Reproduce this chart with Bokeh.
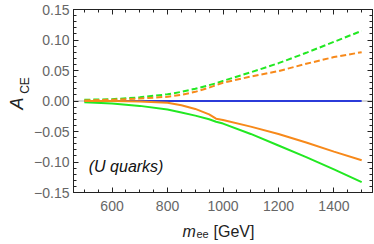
import numpy as np
from bokeh.plotting import figure
from bokeh.layouts import row, column
from bokeh.models import (Range1d, LinearAxis, FixedTicker, Span, CustomJSTickFormatter)
from bokeh.core.properties import value
from bokeh.embed import file_html
from bokeh.resources import INLINE

# ---- data ----
m_ee = [500, 600, 700, 800, 850, 900, 950, 975, 1000, 1100, 1200, 1300, 1400, 1500]
sm = [0, 0, 0, 0, 0, 0, 0, 0, 0, 0, 0, 0, 0, 0]
green_dash = [0.002, 0.003, 0.006, 0.011, 0.015, 0.020, 0.026, 0.029, 0.033, 0.047, 0.062, 0.079, 0.097, 0.115]
orange_dash = [0.001, 0.002, 0.004, 0.007, 0.010, 0.015, 0.022, 0.026, 0.030, 0.040, 0.049, 0.061, 0.072, 0.080]
green_solid = [-0.002, -0.004, -0.008, -0.014, -0.019, -0.024, -0.030, -0.034, -0.037, -0.054, -0.073, -0.092, -0.112, -0.133]
orange_solid = [0.0, 0.0, -0.001, -0.003, -0.007, -0.013, -0.022, -0.029, -0.031, -0.042, -0.054, -0.068, -0.083, -0.097]

x_major = [600, 800, 1000, 1200, 1400]
x_minor = [500, 550, 650, 700, 750, 850, 900, 950, 1050, 1100, 1150, 1250, 1300, 1350, 1450, 1500]
y_major = [-0.15, -0.10, -0.05, 0.0, 0.05, 0.10, 0.15]
y_minor = [round(-0.15 + 0.01 * i, 2) for i in range(31)]

annotation = "(U quarks)"
x_title = ["m", "ee", "[GeV]"]
y_title = ["A", "CE"]

XMIN, XMAX = 461, 1539
YMIN, YMAX = -0.15, 0.15

FONT = "Liberation Sans"
BLUE = "#2b3bd9"
GREEN = "#22e822"
ORANGE = "#f7891a"
FRAME = "#222222"

YSTRIP_W, MAIN_W, MAIN_H, XSTRIP_H = 31, 343, 216, 28

p = figure(width=MAIN_W, height=MAIN_H, output_backend="svg", toolbar_location=None,
           x_range=Range1d(XMIN, XMAX), y_range=Range1d(YMIN, YMAX),
           x_axis_location=None, y_axis_location=None,
           min_border_left=41, min_border_right=2, min_border_top=9, min_border_bottom=24)
p.grid.visible = False
p.outline_line_color = FRAME
p.background_fill_color = "white"
p.border_fill_color = "white"

fmt = CustomJSTickFormatter(code="return tick.toFixed(2).replace('-', '\\u2212');")
blank = CustomJSTickFormatter(code="return '';")

def make_axis(kind, ticks, minors, labels):
    ax = LinearAxis(ticker=FixedTicker(ticks=ticks, minor_ticks=minors))
    ax.axis_line_color = FRAME
    ax.major_tick_line_color = FRAME
    ax.minor_tick_line_color = FRAME
    ax.major_tick_in = 5
    ax.major_tick_out = 0
    ax.minor_tick_in = 3
    ax.minor_tick_out = 0
    if labels:
        ax.major_label_text_font = FONT
        ax.major_label_text_font_size = "14px"
        ax.major_label_text_color = "#666666"
        ax.major_label_standoff = 4 if kind == "y" else 8
        if kind == "y":
            ax.formatter = fmt
    else:
        ax.formatter = blank
        ax.major_label_text_font_size = "1px"
        ax.major_label_standoff = 0
        ax.axis_label_standoff = 0
    return ax

p.add_layout(make_axis("x", x_major, x_minor, True), "below")
p.add_layout(make_axis("y", y_major, y_minor, True), "left")
p.add_layout(make_axis("x", x_major, x_minor, False), "above")
p.add_layout(make_axis("y", y_major, y_minor, False), "right")

p.add_layout(Span(location=0, dimension="width", line_color="#b0b0b0", line_width=1,
                  level="underlay"))

p.line(m_ee, sm, line_color=BLUE, line_width=2)
p.line(m_ee, green_dash, line_color=GREEN, line_width=2, line_dash="6 3")
p.line(m_ee, orange_dash, line_color=ORANGE, line_width=2, line_dash="6 3")
p.line(m_ee, green_solid, line_color=GREEN, line_width=2)
p.line(m_ee, orange_solid, line_color=ORANGE, line_width=2)

p.text(x=[516], y=[-0.107], text=[annotation], text_font=value(FONT),
       text_font_style="italic", text_font_size="16px", text_color="#111111",
       text_baseline="middle", text_align="left")

def strip(w, h):
    s = figure(width=w, height=h, output_backend="svg", toolbar_location=None,
               x_range=Range1d(0, w), y_range=Range1d(0, h),
               x_axis_location=None, y_axis_location=None,
               min_border=0, outline_line_color=None)
    s.grid.visible = False
    s.background_fill_color = "white"
    s.border_fill_color = "white"
    return s

# x-axis title strip (coordinates in strip pixels, origin bottom-left)
xs = strip(YSTRIP_W + MAIN_W, XSTRIP_H)
xs.text(x=[182], y=[13.5], text=[x_title[0]], text_font=value(FONT), text_font_style="italic",
        text_font_size="16px", text_color="#222222", text_baseline="alphabetic")
xs.text(x=[196], y=[10.5], text=[x_title[1]], text_font=value(FONT),
        text_font_size="11px", text_color="#222222", text_baseline="alphabetic")
xs.text(x=[213], y=[13.5], text=[x_title[2]], text_font=value(FONT),
        text_font_size="16px", text_color="#222222", text_baseline="alphabetic")

# y-axis title strip
ys = strip(YSTRIP_W, MAIN_H)
ys.text(x=[16.5], y=[98], text=[y_title[0]], text_font=value(FONT), text_font_style="italic",
        text_font_size="18px", text_color="#222222", text_baseline="alphabetic",
        angle=np.pi / 2)
ys.text(x=[24], y=[116.5], text=[y_title[1]], text_font=value(FONT),
        text_font_size="12px", text_color="#222222", text_baseline="alphabetic",
        angle=np.pi / 2)

layout = column(row(ys, p, spacing=0), xs, spacing=0)

open("out.html", "w").write(file_html(layout, INLINE))
